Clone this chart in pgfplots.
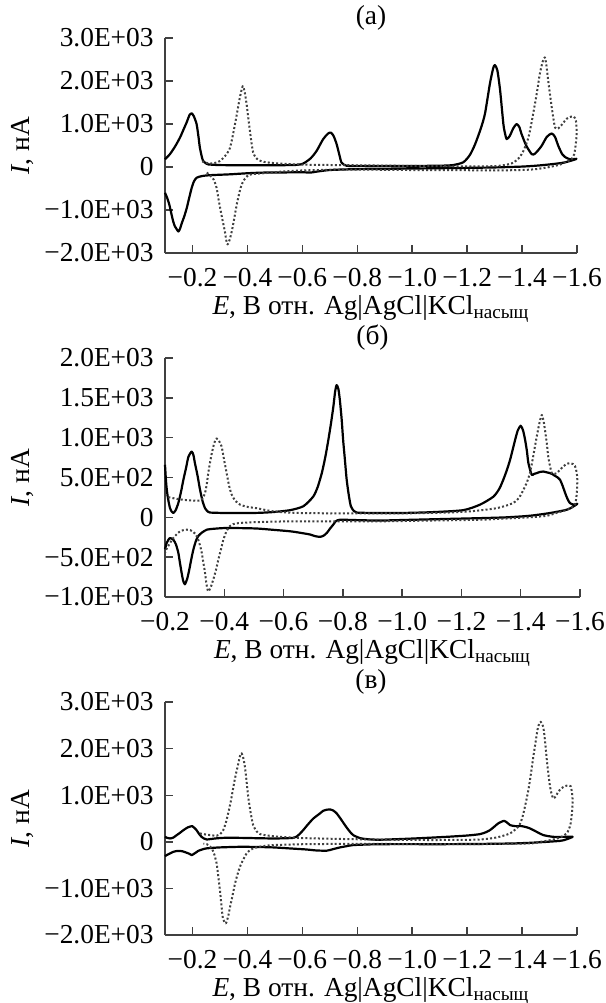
\documentclass[border=0pt]{standalone}
\usepackage{fontspec}
\setmainfont{Liberation Serif}
\usepackage{pgfplots}
\pgfplotsset{compat=1.18}

\newcommand{\lblfont}{\fontsize{13.7}{16}\selectfont}

\pgfplotsset{
  cvstyle/.style={
    scale only axis,
    x dir=reverse,
    axis x line=bottom, axis y line=left,
    axis line style={black!75, line width=0.7pt, -},
    tick style={black!75, line width=0.7pt},
    tick align=inside,
    major tick length=4.2pt,
    clip=false,
    tick label style={font=\lblfont},
    label style={font=\lblfont},
    title style={font=\lblfont, at={(axis description cs:0.5,1)}, anchor=center, yshift=4pt},
    yticklabel style={anchor=east, inner sep=0pt, xshift=-5.5pt},
    xticklabel style={anchor=north, inner sep=0pt, yshift=-7.5pt},
    xlabel={\textit{E}, В отн. Ag|AgCl|KCl\textsubscript{насыщ}},
    ylabel={\textit{I}, нА},
    xlabel style={at={(axis description cs:0.5,0)}, anchor=base, yshift=-30.5pt},
  },
  solidcv/.style={black, line width=1.1pt, line join=round, smooth, tension=0.4},
  dotcv/.style={black!75, line width=1pt, dash pattern=on 1pt off 1.1pt, line join=round, smooth, tension=0.4},
}

\begin{document}
\begin{tikzpicture}
\useasboundingbox (0,0) rectangle (303pt,-501.5pt);

% (a)
\begin{axis}[cvstyle, at={(82.5pt,-126.5pt)}, anchor=south west,
  width=206pt, height=107.5pt,
  xmin=-1.6, xmax=-0.1, ymin=-2000, ymax=3000,
  title={(а)},
  ylabel style={at={(axis description cs:-0.3459,0.5)}, anchor=center},
  xtick={-0.2,-0.4,-0.6,-0.8,-1.0,-1.2,-1.4,-1.6},
  xticklabels={−0.2,−0.4,−0.6,−0.8,−1.0,−1.2,−1.4,−1.6},
  ytick={-2000,-1000,0,1000,2000,3000},
  yticklabels={−2.0E+03,−1.0E+03,0,1.0E+03,2.0E+03,3.0E+03}]
\addplot[solidcv] coordinates {
(-0.100,180) (-0.118,300) (-0.137,480) (-0.155,690) (-0.168,880) (-0.179,1040)
(-0.190,1220) (-0.197,1250) (-0.205,1180) (-0.215,1000) (-0.222,700) (-0.227,450)
(-0.234,240) (-0.239,140) (-0.250,80) (-0.258,60) (-0.30,45) (-0.40,40) (-0.50,40)
(-0.58,50) (-0.603,80) (-0.630,200) (-0.652,375) (-0.676,650) (-0.694,780) (-0.704,800)
(-0.714,720) (-0.725,530) (-0.735,280) (-0.743,100) (-0.761,30) (-0.80,25) (-0.9,25)
(-1.0,25) (-1.1,30) (-1.148,45) (-1.186,110) (-1.21,280) (-1.229,530) (-1.250,900)
(-1.265,1240) (-1.283,1940) (-1.295,2300) (-1.301,2370) (-1.310,2250) (-1.320,1790)
(-1.332,1000) (-1.338,780) (-1.344,650) (-1.355,720) (-1.368,900) (-1.380,1000)
(-1.390,930) (-1.398,770) (-1.415,500) (-1.435,300) (-1.447,310) (-1.47,480) (-1.49,700)
(-1.508,780) (-1.520,700) (-1.532,490) (-1.546,300) (-1.556,235) (-1.574,180) (-1.598,190)
(-1.58,150) (-1.55,100) (-1.50,60) (-1.45,30) (-1.40,10) (-1.30,-10) (-1.2,-20)
(-1.0,-35) (-0.9,-45) (-0.8,-50) (-0.761,-55) (-0.70,-70) (-0.66,-100) (-0.628,-130)
(-0.60,-120) (-0.55,-125) (-0.458,-130) (-0.40,-145) (-0.337,-170) (-0.264,-190)
(-0.235,-210) (-0.215,-250) (-0.205,-340) (-0.197,-490) (-0.188,-720) (-0.179,-960)
(-0.170,-1150) (-0.161,-1310) (-0.155,-1430) (-0.149,-1500) (-0.142,-1440)
(-0.136,-1380) (-0.130,-1270) (-0.123,-1080) (-0.116,-880) (-0.108,-720) (-0.100,-600)
};
\addplot[dotcv] coordinates {
(-0.235,130) (-0.250,100) (-0.264,80) (-0.282,95) (-0.300,140) (-0.318,250) (-0.337,450)
(-0.355,1000) (-0.365,1350) (-0.373,1630) (-0.383,1880) (-0.390,1750) (-0.397,1470)
(-0.403,1150) (-0.409,850) (-0.415,560) (-0.421,340) (-0.430,220) (-0.440,160)
(-0.460,120) (-0.482,100) (-0.52,80) (-0.579,60) (-0.65,50) (-0.8,40) (-1.0,25)
(-1.2,15) (-1.3,20) (-1.34,50) (-1.368,100) (-1.39,220) (-1.405,375) (-1.42,620)
(-1.429,850) (-1.447,1470) (-1.457,1850) (-1.465,2180) (-1.475,2450) (-1.483,2550)
(-1.489,2350) (-1.495,2020) (-1.508,1390) (-1.520,920) (-1.532,900) (-1.547,1000)
(-1.562,1120) (-1.578,1170) (-1.589,1170) (-1.596,1080) (-1.599,850) (-1.598,680)
(-1.594,450) (-1.590,300) (-1.580,180) (-1.562,130) (-1.54,60) (-1.5,0) (-1.45,-50)
(-1.40,-70) (-1.3,-80) (-1.2,-75) (-1.0,-70) (-0.8,-60) (-0.7,-65) (-0.6,-80)
(-0.519,-110) (-0.470,-140) (-0.434,-155) (-0.415,-170) (-0.403,-190) (-0.390,-280)
(-0.379,-410) (-0.370,-620) (-0.361,-880) (-0.352,-1200) (-0.343,-1500) (-0.335,-1700)
(-0.328,-1800) (-0.323,-1700) (-0.318,-1500) (-0.310,-1250) (-0.303,-1030)
(-0.295,-750) (-0.288,-490) (-0.278,-300) (-0.265,-200) (-0.252,-130) (-0.245,-110)
};
\end{axis}

% (b)
\begin{axis}[cvstyle, at={(82.5pt,-298.5pt)}, anchor=south west,
  width=207.5pt, height=119.5pt,
  xmin=-1.6, xmax=-0.2, ymin=-1000, ymax=2000,
  title={(б)},
  ylabel style={at={(axis description cs:-0.3434,0.5)}, anchor=center},
  xtick={-0.2,-0.4,-0.6,-0.8,-1.0,-1.2,-1.4,-1.6},
  xticklabels={−0.2,−0.4,−0.6,−0.8,−1.0,−1.2,−1.4,−1.6},
  ytick={-1000,-500,0,500,1000,1500,2000},
  yticklabels={−1.0E+03,−5.0E+02,0,5.0E+02,1.0E+03,1.5E+03,2.0E+03}]
\addplot[solidcv] coordinates {
(-0.200,660) (-0.203,480) (-0.206,350) (-0.211,220) (-0.217,115) (-0.223,70)
(-0.228,55) (-0.236,90) (-0.245,180) (-0.254,320) (-0.262,470) (-0.271,620)
(-0.279,760) (-0.290,825) (-0.296,780) (-0.301,680) (-0.310,520) (-0.318,350)
(-0.327,200) (-0.335,115) (-0.345,70) (-0.352,60) (-0.40,55) (-0.5,55) (-0.56,65)
(-0.622,90) (-0.667,140) (-0.700,260) (-0.715,380) (-0.729,555) (-0.741,760)
(-0.751,970) (-0.760,1180) (-0.768,1390) (-0.774,1580) (-0.779,1660) (-0.785,1610)
(-0.790,1470) (-0.796,1230) (-0.801,970) (-0.807,720) (-0.813,470) (-0.820,280)
(-0.827,140) (-0.837,80) (-0.847,60) (-0.9,55) (-1.0,55) (-1.1,65) (-1.206,90)
(-1.263,160) (-1.308,260) (-1.328,360) (-1.341,470) (-1.353,590) (-1.364,720)
(-1.373,850) (-1.381,970) (-1.390,1090) (-1.400,1150) (-1.408,1090) (-1.415,970)
(-1.421,830) (-1.426,680) (-1.437,535) (-1.445,545) (-1.454,555) (-1.465,570)
(-1.476,575) (-1.488,565) (-1.499,555) (-1.508,540) (-1.516,520) (-1.525,500)
(-1.533,470) (-1.541,400) (-1.550,305) (-1.558,230) (-1.566,180) (-1.578,160)
(-1.591,170) (-1.575,130) (-1.555,95) (-1.50,55) (-1.431,20) (-1.35,0) (-1.263,-10)
(-1.15,-20) (-1.038,-30) (-0.925,-40) (-0.85,-35) (-0.79,-30) (-0.776,-50)
(-0.768,-90) (-0.757,-140) (-0.746,-195) (-0.735,-230) (-0.723,-245) (-0.705,-235)
(-0.689,-215) (-0.65,-190) (-0.622,-175) (-0.56,-155) (-0.509,-140) (-0.45,-135)
(-0.397,-135) (-0.360,-145) (-0.341,-155) (-0.325,-190) (-0.312,-235) (-0.304,-300)
(-0.296,-400) (-0.289,-520) (-0.282,-655) (-0.275,-770) (-0.267,-840) (-0.261,-790)
(-0.256,-695) (-0.250,-560) (-0.245,-445) (-0.237,-340) (-0.228,-280) (-0.217,-260)
(-0.211,-285) (-0.206,-320) (-0.200,-400)
};
\addplot[dotcv] coordinates {
(-0.200,285) (-0.210,255) (-0.228,240) (-0.262,220) (-0.300,210) (-0.318,210)
(-0.327,240) (-0.335,305) (-0.341,420) (-0.346,555) (-0.352,690) (-0.358,805)
(-0.366,930) (-0.374,990) (-0.382,960) (-0.391,890) (-0.399,730) (-0.408,555)
(-0.416,400) (-0.425,285) (-0.437,210) (-0.453,160) (-0.480,130) (-0.509,115)
(-0.565,75) (-0.65,55) (-0.8,50) (-1.0,50) (-1.15,60) (-1.229,75) (-1.319,115)
(-1.375,180) (-1.395,250) (-1.409,345) (-1.421,440) (-1.431,555) (-1.440,720)
(-1.448,890) (-1.456,1050) (-1.463,1180) (-1.471,1285) (-1.477,1210) (-1.482,1095)
(-1.488,930) (-1.493,760) (-1.499,640) (-1.505,555) (-1.514,545) (-1.522,555)
(-1.533,600) (-1.544,640) (-1.555,670) (-1.566,680) (-1.576,670) (-1.583,645)
(-1.589,560) (-1.591,470) (-1.590,360) (-1.588,260) (-1.583,160) (-1.570,120)
(-1.555,95) (-1.52,55) (-1.488,20) (-1.43,0) (-1.375,-10) (-1.263,-30) (-1.1,-40)
(-0.925,-50) (-0.8,-50) (-0.622,-50) (-0.509,-60) (-0.453,-70) (-0.430,-85)
(-0.419,-110) (-0.408,-170) (-0.397,-280) (-0.389,-400) (-0.380,-530) (-0.372,-660)
(-0.363,-780) (-0.355,-870) (-0.346,-930) (-0.340,-840) (-0.335,-695) (-0.329,-560)
(-0.324,-445) (-0.318,-350) (-0.312,-280) (-0.304,-215) (-0.296,-185) (-0.285,-160)
(-0.273,-155) (-0.262,-160) (-0.251,-175) (-0.240,-210) (-0.228,-260) (-0.219,-310)
(-0.211,-360) (-0.205,-400) (-0.200,-445)
};
\end{axis}

% (v)
\begin{axis}[cvstyle, at={(82.5pt,-467.5pt)}, anchor=south west,
  width=206pt, height=116.5pt,
  xmin=-1.6, xmax=-0.1, ymin=-2000, ymax=3000,
  title={(в)},
  ylabel style={at={(axis description cs:-0.3459,0.5)}, anchor=center},
  xtick={-0.2,-0.4,-0.6,-0.8,-1.0,-1.2,-1.4,-1.6},
  xticklabels={−0.2,−0.4,−0.6,−0.8,−1.0,−1.2,−1.4,−1.6},
  ytick={-2000,-1000,0,1000,2000,3000},
  yticklabels={−2.0E+03,−1.0E+03,0,1.0E+03,2.0E+03,3.0E+03}]
\addplot[solidcv] coordinates {
(-0.100,107) (-0.108,85) (-0.118,72) (-0.130,90) (-0.143,145) (-0.155,195)
(-0.167,250) (-0.183,310) (-0.199,337) (-0.207,300) (-0.215,250) (-0.224,170)
(-0.233,107) (-0.242,70) (-0.252,50) (-0.28,70) (-0.312,85) (-0.373,85) (-0.494,72)
(-0.567,85) (-0.585,140) (-0.603,250) (-0.620,370) (-0.640,500) (-0.660,590)
(-0.676,665) (-0.690,690) (-0.701,695) (-0.713,670) (-0.725,610) (-0.740,490)
(-0.755,360) (-0.770,240) (-0.785,145) (-0.810,80) (-0.834,58) (-0.883,45) (-1.0,70)
(-1.125,107) (-1.20,135) (-1.247,165) (-1.270,210) (-1.283,250) (-1.300,330)
(-1.313,395) (-1.334,450) (-1.346,410) (-1.356,360) (-1.374,337) (-1.398,337)
(-1.415,315) (-1.429,287) (-1.453,215) (-1.477,145) (-1.514,107) (-1.562,107)
(-1.584,107) (-1.560,50) (-1.538,20) (-1.45,-15) (-1.368,-35) (-1.25,-45)
(-1.125,-50) (-0.919,-50) (-0.85,-55) (-0.785,-70) (-0.76,-95) (-0.737,-120)
(-0.71,-160) (-0.689,-190) (-0.650,-185) (-0.616,-165) (-0.55,-140) (-0.494,-120)
(-0.43,-110) (-0.373,-107) (-0.30,-120) (-0.252,-140) (-0.235,-165) (-0.221,-195)
(-0.210,-240) (-0.197,-285) (-0.188,-255) (-0.179,-235) (-0.165,-205) (-0.155,-195)
(-0.140,-200) (-0.130,-215) (-0.118,-250) (-0.108,-280) (-0.100,-307)
};
\addplot[dotcv] coordinates {
(-0.227,180) (-0.245,160) (-0.264,145) (-0.288,130) (-0.300,160) (-0.312,250)
(-0.321,400) (-0.330,610) (-0.340,880) (-0.349,1180) (-0.358,1450) (-0.367,1680)
(-0.373,1840) (-0.379,1900) (-0.385,1800) (-0.391,1610) (-0.397,1300) (-0.403,965)
(-0.412,620) (-0.421,360) (-0.433,230) (-0.446,165) (-0.48,130) (-0.519,107)
(-0.60,80) (-0.8,55) (-1.0,40) (-1.15,40) (-1.247,50) (-1.307,93) (-1.356,180)
(-1.386,322) (-1.397,450) (-1.405,610) (-1.414,850) (-1.423,1110) (-1.432,1450)
(-1.441,1825) (-1.449,2130) (-1.456,2400) (-1.462,2530) (-1.468,2575) (-1.477,2470)
(-1.483,2200) (-1.489,1825) (-1.495,1500) (-1.502,1180) (-1.508,1020) (-1.514,930)
(-1.523,980) (-1.532,1075) (-1.544,1150) (-1.556,1195) (-1.569,1210) (-1.577,1195)
(-1.582,1050) (-1.584,895) (-1.582,650) (-1.577,395) (-1.570,260) (-1.562,180)
(-1.544,107) (-1.52,60) (-1.489,20) (-1.45,-15) (-1.429,-35) (-1.3,-45) (-1.247,-50)
(-1.0,-50) (-0.883,-45) (-0.75,-45) (-0.616,-50) (-0.494,-70) (-0.450,-100)
(-0.421,-140) (-0.405,-200) (-0.397,-250) (-0.385,-380) (-0.373,-535) (-0.364,-700)
(-0.355,-895) (-0.346,-1150) (-0.337,-1395) (-0.330,-1600) (-0.322,-1750)
(-0.316,-1720) (-0.310,-1610) (-0.305,-1330) (-0.300,-1035) (-0.294,-740)
(-0.288,-465) (-0.279,-260) (-0.270,-140) (-0.260,-80) (-0.252,-50) (-0.240,-40)
};
\end{axis}
\end{tikzpicture}
\end{document}
